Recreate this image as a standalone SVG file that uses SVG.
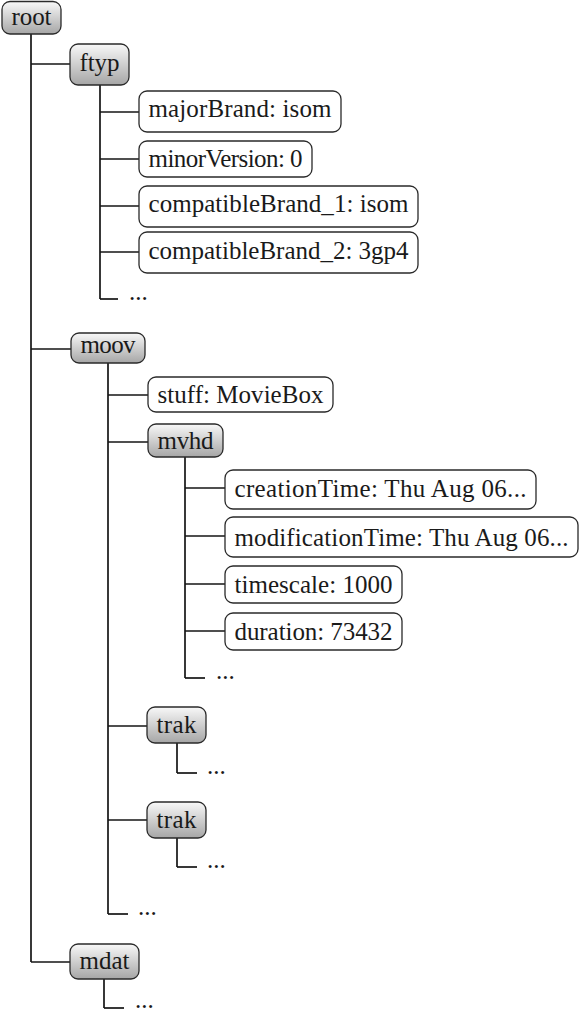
<svg xmlns="http://www.w3.org/2000/svg" width="582" height="1012" viewBox="0 0 582 1012">
<defs>
<linearGradient id="g" x1="0" y1="0" x2="0" y2="1">
<stop offset="0" stop-color="#f8f8f8"/>
<stop offset="1" stop-color="#a6a6a6"/>
</linearGradient>
</defs>
<style>
.inner{fill:url(#g);stroke:#2a2a2a;stroke-width:1.3}
.leaf{fill:#ffffff;stroke:#2a2a2a;stroke-width:1.3}
.c line{stroke:#151515;stroke-width:1.7}
</style>
<g font-family="Liberation Serif, DejaVu Serif, serif" font-size="25" fill="#1a1a1a">
<g class="c" id="connectors">
<line x1="31" y1="34" x2="31" y2="962"/>
<line x1="31" y1="64" x2="70" y2="64"/>
<line x1="31" y1="349" x2="71" y2="349"/>
<line x1="31" y1="962" x2="70" y2="962"/>
<line x1="100" y1="85" x2="100" y2="299"/>
<line x1="100" y1="112" x2="139" y2="112"/>
<line x1="100" y1="159" x2="139" y2="159"/>
<line x1="100" y1="206" x2="139" y2="206"/>
<line x1="100" y1="252" x2="139" y2="252"/>
<line x1="100" y1="299" x2="118" y2="299"/>
<line x1="108" y1="363" x2="108" y2="914"/>
<line x1="108" y1="395" x2="148" y2="395"/>
<line x1="108" y1="442" x2="148" y2="442"/>
<line x1="108" y1="726" x2="147" y2="726"/>
<line x1="108" y1="820" x2="147" y2="820"/>
<line x1="108" y1="914" x2="128" y2="914"/>
<line x1="185" y1="457" x2="185" y2="678"/>
<line x1="185" y1="488" x2="225" y2="488"/>
<line x1="185" y1="536" x2="225" y2="536"/>
<line x1="185" y1="584" x2="225" y2="584"/>
<line x1="185" y1="631" x2="225" y2="631"/>
<line x1="185" y1="678" x2="205" y2="678"/>
<line x1="177" y1="743" x2="177" y2="773"/>
<line x1="177" y1="773" x2="197" y2="773"/>
<line x1="177" y1="838" x2="177" y2="867"/>
<line x1="177" y1="867" x2="197" y2="867"/>
<line x1="104" y1="979" x2="104" y2="1008"/>
<line x1="104" y1="1008" x2="124" y2="1008"/>
</g>
<g id="ellipses">
<text x="129" y="300">...</text>
<text x="216" y="679">...</text>
<text x="138" y="915">...</text>
<text x="207" y="774">...</text>
<text x="207" y="868">...</text>
<text x="135" y="1008">...</text>
</g>
<g id="root"><rect class="inner" x="2" y="1.5" width="59" height="32.5" rx="8"/><text x="11.5" y="25" textLength="40" lengthAdjust="spacing">root</text></g>
<g id="ftyp"><rect class="inner" x="70" y="44" width="59" height="41" rx="8"/><text x="79.5" y="71" textLength="40" lengthAdjust="spacing">ftyp</text></g>
<g id="majorBrand"><rect class="leaf" x="139" y="91" width="202" height="41" rx="8"/><text x="148.5" y="117" textLength="183" lengthAdjust="spacing">majorBrand: isom</text></g>
<g id="minorVersion"><rect class="leaf" x="139" y="141" width="173" height="36" rx="8"/><text x="148.5" y="167" textLength="154" lengthAdjust="spacing">minorVersion: 0</text></g>
<g id="compatibleBrand1"><rect class="leaf" x="139" y="186" width="279" height="41" rx="8"/><text x="148.5" y="212" textLength="260" lengthAdjust="spacing">compatibleBrand_1: isom</text></g>
<g id="compatibleBrand2"><rect class="leaf" x="139" y="232" width="279" height="41" rx="8"/><text x="148.5" y="259" textLength="260" lengthAdjust="spacing">compatibleBrand_2: 3gp4</text></g>
<g id="moov"><rect class="inner" x="71" y="333" width="74" height="30" rx="8"/><text x="80.5" y="353" textLength="55" lengthAdjust="spacing">moov</text></g>
<g id="stuff"><rect class="leaf" x="148" y="377" width="185" height="35" rx="8"/><text x="157.5" y="403" textLength="166" lengthAdjust="spacing">stuff: MovieBox</text></g>
<g id="mvhd"><rect class="inner" x="148" y="424" width="75" height="33" rx="8"/><text x="157.5" y="449" textLength="56" lengthAdjust="spacing">mvhd</text></g>
<g id="creationTime"><rect class="leaf" x="225" y="470" width="311" height="39" rx="8"/><text x="234.5" y="497" textLength="292" lengthAdjust="spacing">creationTime: Thu Aug 06...</text></g>
<g id="modificationTime"><rect class="leaf" x="225" y="517" width="353" height="40" rx="8"/><text x="234.5" y="546" textLength="334" lengthAdjust="spacing">modificationTime: Thu Aug 06...</text></g>
<g id="timescale"><rect class="leaf" x="225" y="566" width="177" height="37" rx="8"/><text x="234.5" y="593" textLength="158" lengthAdjust="spacing">timescale: 1000</text></g>
<g id="duration"><rect class="leaf" x="225" y="613" width="177" height="37" rx="8"/><text x="234.5" y="640" textLength="158" lengthAdjust="spacing">duration: 73432</text></g>
<g id="trak1"><rect class="inner" x="147" y="707" width="59" height="36" rx="8"/><text x="156.5" y="733" textLength="40" lengthAdjust="spacing">trak</text></g>
<g id="trak2"><rect class="inner" x="147" y="802" width="59" height="36" rx="8"/><text x="156.5" y="828" textLength="40" lengthAdjust="spacing">trak</text></g>
<g id="mdat"><rect class="inner" x="70" y="944" width="69" height="35" rx="8"/><text x="79.5" y="969" textLength="50" lengthAdjust="spacing">mdat</text></g>
</g>
</svg>
